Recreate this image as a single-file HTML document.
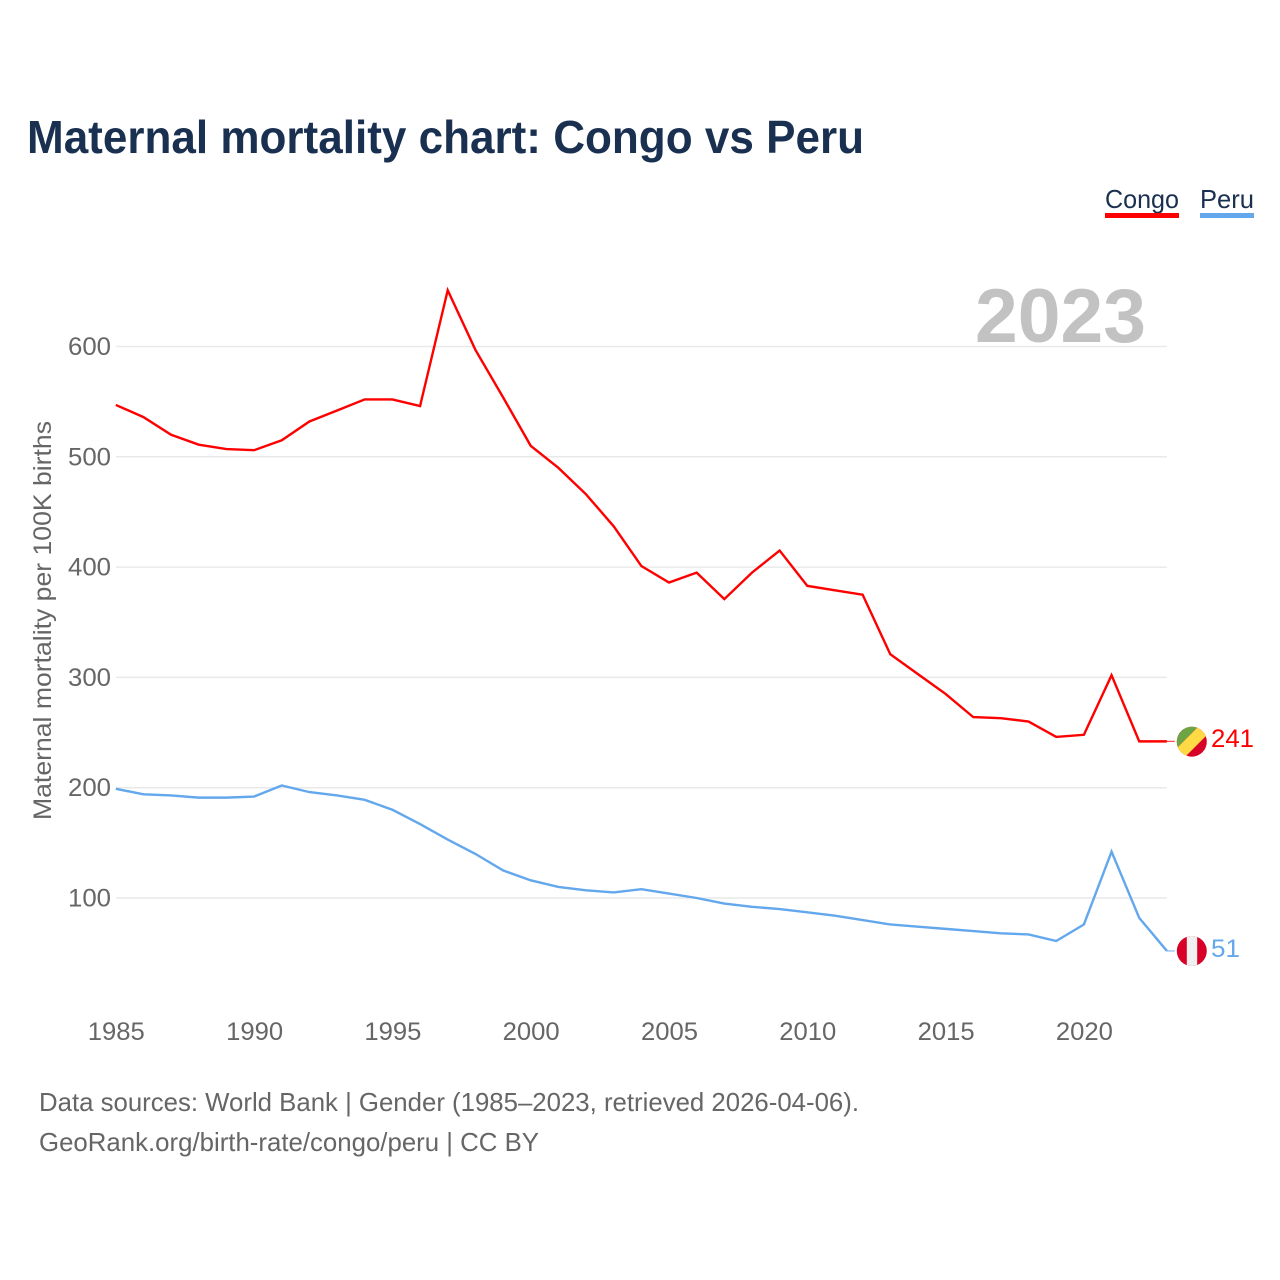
<!DOCTYPE html>
<html>
<head>
<meta charset="utf-8">
<title>Maternal mortality chart: Congo vs Peru</title>
<style>
html,body{margin:0;padding:0;background:#fff}
svg{display:block;font-family:"Liberation Sans",sans-serif}
</style>
</head>
<body>
<svg id="chart" width="1280" height="1280" viewBox="0 0 1280 1280" xmlns="http://www.w3.org/2000/svg">
  <defs>
    <clipPath id="flag-clip-a"><circle cx="1191.8" cy="741.7" r="15"/></clipPath>
    <clipPath id="flag-clip-b"><circle cx="1191.8" cy="951" r="15"/></clipPath>
  </defs>
  <rect width="1280" height="1280" fill="#fff"/>
  <text x="27" y="153" font-size="46" font-weight="700" fill="#1a3050" textLength="837" lengthAdjust="spacingAndGlyphs">Maternal mortality chart: Congo vs Peru</text>
  <text x="1105" y="208" font-size="26" fill="#1a3050" textLength="74" lengthAdjust="spacingAndGlyphs">Congo</text>
  <rect x="1105" y="213" width="74" height="5" fill="#ff0000"/>
  <text x="1200" y="208" font-size="26" fill="#1a3050" textLength="54" lengthAdjust="spacingAndGlyphs">Peru</text>
  <rect x="1200" y="213" width="54" height="5" fill="#63a7ed"/>
  <g id="grid"></g>
  <text x="975" y="342" font-size="76" font-weight="700" fill="#c2c2c2" textLength="171" lengthAdjust="spacingAndGlyphs">2023</text>
  <g id="yticks"></g>
  <g id="xticks"></g>
  <text transform="translate(51,820) rotate(-90)" font-size="25" fill="#666" textLength="399" lengthAdjust="spacingAndGlyphs">Maternal mortality per 100K births</text>
  <g id="series"></g>
  <g clip-path="url(#flag-clip-a)">
    <rect x="1176" y="726" width="32" height="32" fill="#d80027"/>
    <polygon points="1170,720 1205,720 1170,755" fill="#6da544"/>
    <polygon points="1199,726 1210,732 1184,758 1173,752" fill="#ffda44"/>
  </g>
  <g clip-path="url(#flag-clip-b)">
    <rect x="1176" y="935" width="32" height="32" fill="#d80027"/>
    <rect x="1186.8" y="935" width="10.4" height="32" fill="#f0f0f0"/>
  </g>
  <text id="value-congo" x="1211" y="747" font-size="25" fill="#ff0000" textLength="43" lengthAdjust="spacingAndGlyphs"></text>
  <text id="value-peru" x="1211" y="957" font-size="25" fill="#63a7ed" textLength="29" lengthAdjust="spacingAndGlyphs"></text>
  <text x="39" y="1111" font-size="26" fill="#666" textLength="820" lengthAdjust="spacingAndGlyphs">Data sources: World Bank | Gender (1985–2023, retrieved 2026-04-06).</text>
  <text x="39" y="1151" font-size="26" fill="#666" textLength="500" lengthAdjust="spacingAndGlyphs">GeoRank.org/birth-rate/congo/peru | CC BY</text>
</svg>
<script>
const years = [1985,1986,1987,1988,1989,1990,1991,1992,1993,1994,1995,1996,1997,1998,1999,2000,2001,2002,2003,2004,2005,2006,2007,2008,2009,2010,2011,2012,2013,2014,2015,2016,2017,2018,2019,2020,2021,2022,2023];
const congoValues = [547,536,520,511,507,506,515,532,542,552,552,546,651,597,554,510,490,466,437,401,386,395,371,395,415,383,379,375,321,303,285,264,263,260,246,248,302,242,242];
const peruValues = [199,194,193,191,191,192,202,196,193,189,180,167,153,140,125,116,110,107,105,108,104,100,95,92,90,87,84,80,76,74,72,70,68,67,61,76,142,82,52];
const endLabels = [241,51];
const yTickValues = [100,200,300,400,500,600];
const xTickValues = [1985,1990,1995,2000,2005,2010,2015,2020];

const SVG_NS = 'http://www.w3.org/2000/svg';
function xScale(year){ return 115.8 + (year - 1985) * 27.66; }
function yScale(value){ return 1008.3 - value * 1.103; }
function make(tag, attrs){
  const el = document.createElementNS(SVG_NS, tag);
  for (const k in attrs) el.setAttribute(k, attrs[k]);
  return el;
}

const grid = document.getElementById('grid');
const yticks = document.getElementById('yticks');
yTickValues.forEach(function(v){
  const line = make('line', {x1: 116, x2: 1166.9, y1: yScale(v), y2: yScale(v), stroke: '#e9e9e9', 'stroke-width': 1.5});
  
  
  grid.appendChild(line);
  const t = make('text', {x: 68, y: yScale(v) + 8.5, 'font-size': 25, fill: '#666', textLength: 43, lengthAdjust: 'spacingAndGlyphs'});
  
  
  t.textContent = v;
  yticks.appendChild(t);
});

const xticks = document.getElementById('xticks');
xTickValues.forEach(function(y){
  const t = make('text', {x: xScale(y) - 28, y: 1040, 'font-size': 25, fill: '#666', textLength: 57, lengthAdjust: 'spacingAndGlyphs'});
  
  
  t.textContent = y;
  xticks.appendChild(t);
});

function linePoints(values){
  return values.map(function(v, i){ return xScale(years[i]).toFixed(2) + ',' + yScale(v).toFixed(2); }).join(' ');
}
const series = document.getElementById('series');

const congoLine = make('polyline', {points: linePoints(congoValues), fill: 'none', stroke: '#ff0000', 'stroke-width': 2.4, 'stroke-linejoin': 'miter'});


series.appendChild(congoLine);

const peruLine = make('polyline', {points: linePoints(peruValues), fill: 'none', stroke: '#63a7ed', 'stroke-width': 2.4, 'stroke-linejoin': 'miter'});


series.appendChild(peruLine);

const lastX = xScale(years[years.length - 1]);
const lastCongo = congoValues[congoValues.length - 1];
const lastPeru = peruValues[peruValues.length - 1];

const congoLeader = make('line', {x1: lastX, x2: lastX + 8, y1: yScale(lastCongo), y2: yScale(lastCongo), stroke: '#ff0000', 'stroke-width': 1.2, 'stroke-opacity': 0.7});


series.appendChild(congoLeader);

const peruLeader = make('line', {x1: lastX, x2: lastX + 8, y1: yScale(lastPeru), y2: yScale(lastPeru), stroke: '#63a7ed', 'stroke-width': 1.2, 'stroke-opacity': 0.8});


series.appendChild(peruLeader);

document.getElementById('value-congo').textContent = endLabels[0];
document.getElementById('value-peru').textContent = endLabels[1];
</script>
</body>
</html>
